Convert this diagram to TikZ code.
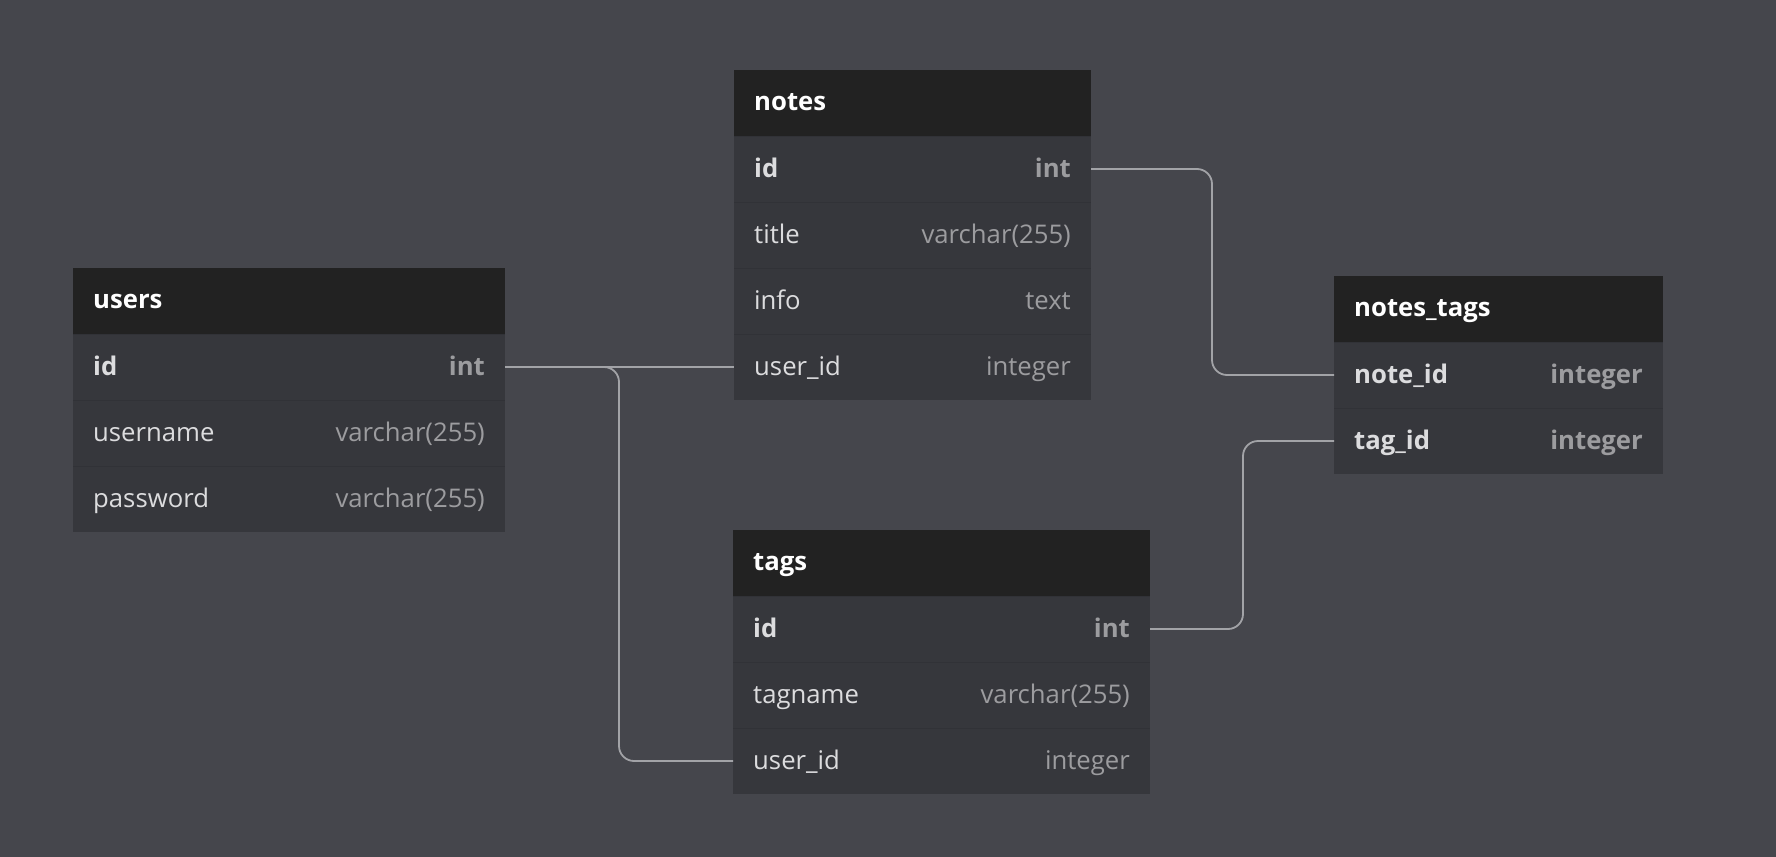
\documentclass[tikz,border=0pt]{standalone}
\usepackage{fontspec}
\setmainfont{Open Sans}
\usetikzlibrary{calc}
\definecolor{bgc}{HTML}{45464C}
\definecolor{hdrc}{HTML}{222222}
\definecolor{rowc}{HTML}{36373C}
\definecolor{sepc}{HTML}{313237}
\definecolor{namec}{HTML}{DCDCDE}
\definecolor{typec}{HTML}{9C9C9F}
\definecolor{connc}{HTML}{A2A3A7}
\tikzset{
  hdr/.style={rectangle, fill=hdrc, minimum height=66pt, inner sep=0pt, outer sep=0pt},
  rowbox/.style={rectangle, fill=rowc, minimum height=66pt, inner sep=0pt, outer sep=0pt},
  hdrtxt/.style={inner sep=0pt, text=white, font=\fontsize{25.7}{30}\selectfont\bfseries},
  fname/.style={inner sep=0pt, text=namec, font=\fontsize{25.7}{30}\selectfont},
  fnameB/.style={inner sep=0pt, text=namec, font=\fontsize{25.7}{30}\selectfont\bfseries},
  ftype/.style={inner sep=0pt, text=typec, font=\fontsize{25.7}{30}\selectfont},
  ftypeB/.style={inner sep=0pt, text=typec, font=\fontsize{25.7}{30}\selectfont\bfseries},
  rowsep/.style={draw=sepc, line width=1pt},
  conn/.style={draw=connc, line width=1.8pt, rounded corners=15pt}
}
\newcommand{\ehead}[5]{%
  \node[hdr, minimum width=#4pt, anchor=north west] (#1) at (#2,#3) {};
  \node[hdrtxt, anchor=base west] (#1-t) at ($(#1.west)+(20,7.5)$) {#5};}
\newcommand{\erow}[7]{%
  \node[rowbox, minimum width=#4pt, anchor=north west] (#1) at (#2,#3) {};
  \draw[rowsep] (#1.north west) -- (#1.north east);
  \node[fname#7, anchor=base west] (#1-n) at ($(#1.west)+(20,8)$) {#5};
  \node[ftype#7, anchor=base east] (#1-y) at ($(#1.east)+(-20,8)$) {#6};}
\begin{document}
\begin{tikzpicture}[x=1pt, y=-1pt]
\useasboundingbox (0,0) rectangle (1776,856);
\fill[bgc] (-2,-2) rectangle (1778,858);
% users
\ehead{users}{73}{268}{432}{users}
\erow{usersid}{73}{334}{432}{id}{int}{B}
\erow{usersname}{73}{400}{432}{username}{varchar(255)}{}
\erow{userspw}{73}{466}{432}{password}{varchar(255)}{}
% notes
\ehead{notes}{734}{70}{357}{notes}
\erow{notesid}{734}{136}{357}{id}{int}{B}
\erow{notestitle}{734}{202}{357}{title}{varchar(255)}{}
\erow{notesinfo}{734}{268}{357}{info}{text}{}
\erow{notesuid}{734}{334}{357}{user\_id}{integer}{}
% notes_tags
\ehead{nt}{1334}{276}{329}{notes\_tags}
\erow{ntnote}{1334}{342}{329}{note\_id}{integer}{B}
\erow{nttag}{1334}{408}{329}{tag\_id}{integer}{B}
% tags
\ehead{tags}{733}{530}{417}{tags}
\erow{tagsid}{733}{596}{417}{id}{int}{B}
\erow{tagsname}{733}{662}{417}{tagname}{varchar(255)}{}
\erow{tagsuid}{733}{728}{417}{user\_id}{integer}{}
% connectors
\coordinate (ju) at (619,0);
\coordinate (jn) at (1212,0);
\coordinate (jt) at (1243,0);
\draw[conn] (usersid.east) -- (notesuid.west);
\draw[conn] (usersid.east) -- (ju |- usersid.east) -- (ju |- tagsuid.west) -- (tagsuid.west);
\draw[conn] (notesid.east) -- (jn |- notesid.east) -- (jn |- ntnote.west) -- (ntnote.west);
\draw[conn] (tagsid.east) -- (jt |- tagsid.east) -- (jt |- nttag.west) -- (nttag.west);
\end{tikzpicture}
\end{document}
